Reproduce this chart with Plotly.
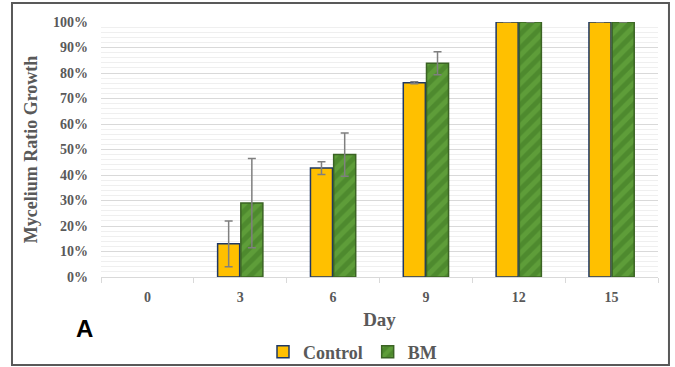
import plotly.graph_objects as go

days = ["0", "3", "6", "9", "12", "15"]
control = [0, 0.13, 0.427, 0.762, 1.0, 1.0]
control_err = [0, 0.09, 0.025, 0.004, 0, 0]
bm = [0, 0.29, 0.48, 0.838, 1.0, 1.0]
bm_err = [0, 0.175, 0.085, 0.045, 0, 0]

serif = "Liberation Serif"
gray = "#595959"

# zero-height bars are not drawn in the reference (no outline, no error cap)
plot_c = [v if v > 0 else None for v in control]
plot_b = [v if v > 0 else None for v in bm]

fig = go.Figure()
fig.add_trace(go.Bar(
    x=days, y=plot_c, name="Control",
    marker=dict(color="#FFC000", line=dict(color="#1F3864", width=1.5)),
    error_y=dict(type="data", array=control_err, color="#7F7F7F", thickness=1.5, width=4),
))
fig.add_trace(go.Bar(
    x=days, y=plot_b, name="BM",
    marker=dict(color="#4E8A2E", line=dict(color="#3B6324", width=1.5),
                pattern=dict(shape="/", fgcolor="#6DB043", bgcolor="#4E8A2E", size=10, solidity=0.5)),
    error_y=dict(type="data", array=bm_err, color="#7F7F7F", thickness=1.5, width=4),
))

fig.update_layout(
    width=675, height=367,
    margin=dict(l=101, r=17, t=22, b=90, autoexpand=False),
    paper_bgcolor="white", plot_bgcolor="white",
    barmode="group", bargap=0.5, bargroupgap=0.05,
    font=dict(family=serif, color=gray),
    showlegend=True,
    legend=dict(orientation="h", x=0.5 + 15 / 675, xanchor="center", xref="container",
                y=15 / 367, yanchor="middle", yref="container",
                bgcolor="rgba(0,0,0,0)",
                font=dict(family=serif, size=18, color=gray, weight="bold"),
                itemwidth=30, tracegroupgap=0),
)
fig.update_xaxes(
    type="category", showline=True, linecolor="#D9D9D9", linewidth=1,
    ticks="outside", tickson="boundaries", ticklen=5, tickcolor="#D9D9D9",
    tickfont=dict(family=serif, size=14, color=gray, weight="bold"),
    ticklabelstandoff=7, automargin=False,
    title=dict(text="Day", font=dict(family=serif, size=19, color=gray, weight="bold"), standoff=8),
    showgrid=False,
)
fig.update_yaxes(
    range=[0, 1], dtick=0.1, tickformat=".0%",
    showgrid=True, gridcolor="#D9D9D9", gridwidth=1,
    minor=dict(dtick=0.02, showgrid=True, gridcolor="#EFEFEF", gridwidth=1),
    zeroline=False, showline=False, automargin=False,
    tickfont=dict(family=serif, size=14, color=gray, weight="bold"),
    ticklabelstandoff=12,
    title=dict(text="Mycelium Ratio Growth", font=dict(family=serif, size=18, color=gray, weight="bold"), standoff=10),
)

fig.add_shape(type="rect", xref="paper", yref="paper",
              x0=-0.1598, x1=1.0197, y0=-0.345, y1=1.0745,
              line=dict(color="#595959", width=2), fillcolor="rgba(0,0,0,0)", layer="above")
fig.add_annotation(text="A", xref="paper", yref="paper", x=(84 - 101) / 557, y=(277 - 328) / 255,
                   showarrow=False, font=dict(family="Liberation Sans", size=24, color="black", weight="bold"),
                   xanchor="center", yanchor="middle")

fig.write_html("out.html", config={"displayModeBar": False},
               post_script="document.body.style.margin='0';document.body.style.padding='0';")
